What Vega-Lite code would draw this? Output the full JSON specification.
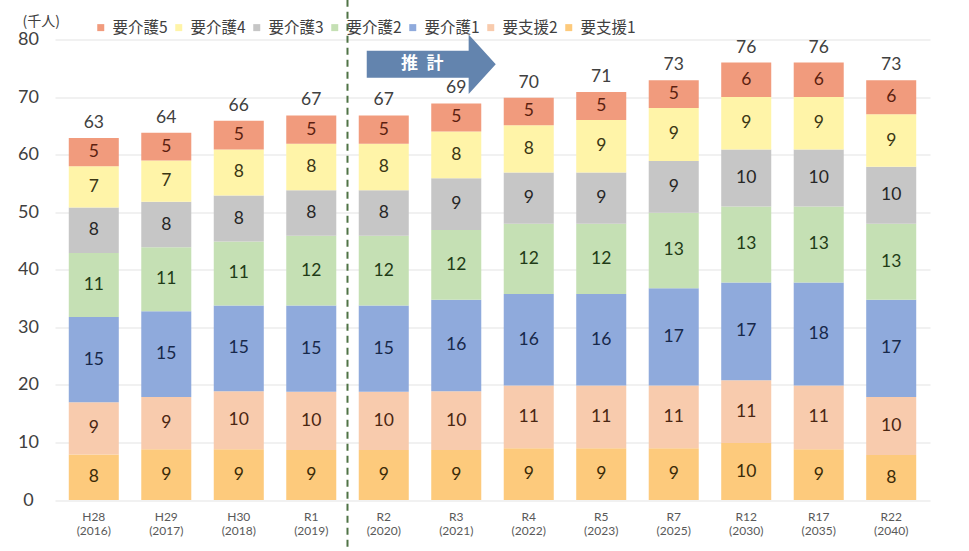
{
  "$schema": "https://vega.github.io/schema/vega-lite/v6.json",
  "width": 875,
  "height": 460.5,
  "autosize": "none",
  "padding": {"left": 55, "top": 39.5, "right": 39, "bottom": 51},
  "background": "#ffffff",
  "config": {
    "view": {"stroke": null},
    "font": "Lato",
    "axis": {"labelFont": "Lato", "titleFont": "Noto Sans CJK JP"}
  },
  "datasets": {
    "main": [
      {"p": "H28 (2016)", "k": "要支援1", "o": 1, "v": 7.9},
      {"p": "H28 (2016)", "k": "要支援2", "o": 2, "v": 9.1},
      {"p": "H28 (2016)", "k": "要介護1", "o": 3, "v": 14.8},
      {"p": "H28 (2016)", "k": "要介護2", "o": 4, "v": 11.1},
      {"p": "H28 (2016)", "k": "要介護3", "o": 5, "v": 7.9},
      {"p": "H28 (2016)", "k": "要介護4", "o": 6, "v": 7.2},
      {"p": "H28 (2016)", "k": "要介護5", "o": 7, "v": 4.9},
      {"p": "H29 (2017)", "k": "要支援1", "o": 1, "v": 8.8},
      {"p": "H29 (2017)", "k": "要支援2", "o": 2, "v": 9.1},
      {"p": "H29 (2017)", "k": "要介護1", "o": 3, "v": 14.9},
      {"p": "H29 (2017)", "k": "要介護2", "o": 4, "v": 11.1},
      {"p": "H29 (2017)", "k": "要介護3", "o": 5, "v": 7.9},
      {"p": "H29 (2017)", "k": "要介護4", "o": 6, "v": 7.2},
      {"p": "H29 (2017)", "k": "要介護5", "o": 7, "v": 4.8},
      {"p": "H30 (2018)", "k": "要支援1", "o": 1, "v": 8.8},
      {"p": "H30 (2018)", "k": "要支援2", "o": 2, "v": 10.1},
      {"p": "H30 (2018)", "k": "要介護1", "o": 3, "v": 14.9},
      {"p": "H30 (2018)", "k": "要介護2", "o": 4, "v": 11.1},
      {"p": "H30 (2018)", "k": "要介護3", "o": 5, "v": 8.0},
      {"p": "H30 (2018)", "k": "要介護4", "o": 6, "v": 8.0},
      {"p": "H30 (2018)", "k": "要介護5", "o": 7, "v": 5.0},
      {"p": "R1 (2019)", "k": "要支援1", "o": 1, "v": 8.7},
      {"p": "R1 (2019)", "k": "要支援2", "o": 2, "v": 10.1},
      {"p": "R1 (2019)", "k": "要介護1", "o": 3, "v": 15.0},
      {"p": "R1 (2019)", "k": "要介護2", "o": 4, "v": 12.1},
      {"p": "R1 (2019)", "k": "要介護3", "o": 5, "v": 7.9},
      {"p": "R1 (2019)", "k": "要介護4", "o": 6, "v": 8.1},
      {"p": "R1 (2019)", "k": "要介護5", "o": 7, "v": 4.9},
      {"p": "R2 (2020)", "k": "要支援1", "o": 1, "v": 8.7},
      {"p": "R2 (2020)", "k": "要支援2", "o": 2, "v": 10.1},
      {"p": "R2 (2020)", "k": "要介護1", "o": 3, "v": 15.0},
      {"p": "R2 (2020)", "k": "要介護2", "o": 4, "v": 12.1},
      {"p": "R2 (2020)", "k": "要介護3", "o": 5, "v": 7.9},
      {"p": "R2 (2020)", "k": "要介護4", "o": 6, "v": 8.1},
      {"p": "R2 (2020)", "k": "要介護5", "o": 7, "v": 4.9},
      {"p": "R3 (2021)", "k": "要支援1", "o": 1, "v": 8.7},
      {"p": "R3 (2021)", "k": "要支援2", "o": 2, "v": 10.2},
      {"p": "R3 (2021)", "k": "要介護1", "o": 3, "v": 15.9},
      {"p": "R3 (2021)", "k": "要介護2", "o": 4, "v": 12.1},
      {"p": "R3 (2021)", "k": "要介護3", "o": 5, "v": 9.0},
      {"p": "R3 (2021)", "k": "要介護4", "o": 6, "v": 8.1},
      {"p": "R3 (2021)", "k": "要介護5", "o": 7, "v": 4.9},
      {"p": "R4 (2022)", "k": "要支援1", "o": 1, "v": 9.0},
      {"p": "R4 (2022)", "k": "要支援2", "o": 2, "v": 10.9},
      {"p": "R4 (2022)", "k": "要介護1", "o": 3, "v": 15.9},
      {"p": "R4 (2022)", "k": "要介護2", "o": 4, "v": 12.2},
      {"p": "R4 (2022)", "k": "要介護3", "o": 5, "v": 8.9},
      {"p": "R4 (2022)", "k": "要介護4", "o": 6, "v": 8.2},
      {"p": "R4 (2022)", "k": "要介護5", "o": 7, "v": 4.8},
      {"p": "R5 (2023)", "k": "要支援1", "o": 1, "v": 9.0},
      {"p": "R5 (2023)", "k": "要支援2", "o": 2, "v": 10.9},
      {"p": "R5 (2023)", "k": "要介護1", "o": 3, "v": 15.9},
      {"p": "R5 (2023)", "k": "要介護2", "o": 4, "v": 12.2},
      {"p": "R5 (2023)", "k": "要介護3", "o": 5, "v": 8.9},
      {"p": "R5 (2023)", "k": "要介護4", "o": 6, "v": 9.1},
      {"p": "R5 (2023)", "k": "要介護5", "o": 7, "v": 4.9},
      {"p": "R7 (2025)", "k": "要支援1", "o": 1, "v": 9.0},
      {"p": "R7 (2025)", "k": "要支援2", "o": 2, "v": 10.9},
      {"p": "R7 (2025)", "k": "要介護1", "o": 3, "v": 16.9},
      {"p": "R7 (2025)", "k": "要介護2", "o": 4, "v": 13.1},
      {"p": "R7 (2025)", "k": "要介護3", "o": 5, "v": 9.0},
      {"p": "R7 (2025)", "k": "要介護4", "o": 6, "v": 9.2},
      {"p": "R7 (2025)", "k": "要介護5", "o": 7, "v": 4.8},
      {"p": "R12 (2030)", "k": "要支援1", "o": 1, "v": 9.9},
      {"p": "R12 (2030)", "k": "要支援2", "o": 2, "v": 10.9},
      {"p": "R12 (2030)", "k": "要介護1", "o": 3, "v": 17.0},
      {"p": "R12 (2030)", "k": "要介護2", "o": 4, "v": 13.2},
      {"p": "R12 (2030)", "k": "要介護3", "o": 5, "v": 9.9},
      {"p": "R12 (2030)", "k": "要介護4", "o": 6, "v": 9.1},
      {"p": "R12 (2030)", "k": "要介護5", "o": 7, "v": 6.0},
      {"p": "R17 (2035)", "k": "要支援1", "o": 1, "v": 8.8},
      {"p": "R17 (2035)", "k": "要支援2", "o": 2, "v": 11.1},
      {"p": "R17 (2035)", "k": "要介護1", "o": 3, "v": 17.9},
      {"p": "R17 (2035)", "k": "要介護2", "o": 4, "v": 13.2},
      {"p": "R17 (2035)", "k": "要介護3", "o": 5, "v": 9.9},
      {"p": "R17 (2035)", "k": "要介護4", "o": 6, "v": 9.1},
      {"p": "R17 (2035)", "k": "要介護5", "o": 7, "v": 6.0},
      {"p": "R22 (2040)", "k": "要支援1", "o": 1, "v": 7.8},
      {"p": "R22 (2040)", "k": "要支援2", "o": 2, "v": 10.1},
      {"p": "R22 (2040)", "k": "要介護1", "o": 3, "v": 16.9},
      {"p": "R22 (2040)", "k": "要介護2", "o": 4, "v": 13.2},
      {"p": "R22 (2040)", "k": "要介護3", "o": 5, "v": 9.9},
      {"p": "R22 (2040)", "k": "要介護4", "o": 6, "v": 9.1},
      {"p": "R22 (2040)", "k": "要介護5", "o": 7, "v": 5.9}
    ]
  },
  "data": {"name": "main"},
  "encoding": {
    "x": {
      "field": "p",
      "type": "nominal",
      "scale": {
        "domain": ["H28 (2016)", "H29 (2017)", "H30 (2018)", "R1 (2019)", "R2 (2020)", "R3 (2021)", "R4 (2022)", "R5 (2023)", "R7 (2025)", "R12 (2030)", "R17 (2035)", "R22 (2040)"],
        "paddingInner": 0.31,
        "paddingOuter": 0.19
      },
      "axis": {
        "title": null,
        "labelAngle": 0,
        "domain": false,
        "ticks": false,
        "labelPadding": 11,
        "labelFontSize": 12,
        "labelColor": "#595959",
        "labelLineHeight": 14,
        "labelExpr": "split(datum.label, ' ')"
      }
    }
  },
  "layer": [
    {
      "mark": {"type": "bar"},
      "encoding": {
        "y": {
          "field": "v",
          "type": "quantitative",
          "stack": "zero",
          "scale": {"domain": [0, 80], "nice": false, "zero": true},
          "axis": {
            "title": "(千人)",
            "titleAngle": 0,
            "titleAlign": "left",
            "titleBaseline": "middle",
            "titleX": -33,
            "titleY": -18.5,
            "titleFontSize": 14,
            "titleFontWeight": "normal",
            "titleColor": "#404040",
            "values": [0, 10, 20, 30, 40, 50, 60, 70, 80],
            "domain": false,
            "ticks": false,
            "labelAlign": "center",
            "labelPadding": 27,
            "labelFontSize": 18,
            "labelColor": "#404040",
            "grid": true,
            "gridColor": "#e3e3e3",
            "gridWidth": 1
          }
        },
        "color": {
          "field": "k",
          "type": "nominal",
          "scale": {
            "domain": ["要介護5", "要介護4", "要介護3", "要介護2", "要介護1", "要支援2", "要支援1"],
            "range": ["#f19b7d", "#fff4a8", "#c6c6c6", "#c5e0b4", "#8faadc", "#f8cbad", "#fdca7c"]
          },
          "legend": {
            "title": null,
            "orient": "none",
            "direction": "horizontal",
            "legendX": 38,
            "legendY": -20,
            "symbolType": "square",
            "symbolSize": 49,
            "symbolStrokeWidth": 0,
            "labelFont": "Noto Sans CJK JP",
            "labelFontSize": 15.5,
            "labelColor": "#404040",
            "labelOffset": 4,
            "columnPadding": 3,
            "padding": 0
          }
        },
        "order": {"field": "o", "sort": "ascending"}
      }
    },
    {
      "mark": {"type": "text", "font": "Lato", "fontSize": 17.5, "baseline": "middle"},
      "encoding": {
        "y": {"field": "v", "type": "quantitative", "stack": "zero", "bandPosition": 0.5},
        "text": {"field": "v", "type": "quantitative", "format": ".0f"},
        "color": {
          "field": "k",
          "type": "nominal",
          "scale": {
            "domain": ["要介護5", "要介護4", "要介護3", "要介護2", "要介護1", "要支援2", "要支援1"],
            "range": ["#5c1f10", "#3a3614", "#262626", "#1f3b17", "#17284a", "#4a2612", "#3a2a08"]
          },
          "legend": null
        },
        "order": {"field": "o", "sort": "ascending"}
      }
    },
    {
      "transform": [{"aggregate": [{"op": "sum", "field": "v", "as": "t"}], "groupby": ["p"]}],
      "mark": {"type": "text", "font": "Lato", "fontSize": 17.5, "baseline": "middle", "dy": -15, "color": "#404040"},
      "encoding": {
        "y": {"field": "t", "type": "quantitative"},
        "text": {"field": "t", "type": "quantitative", "format": ".0f"}
      }
    },
    {
      "data": {"values": [{}]},
      "mark": {"type": "rule", "color": "#4f7345", "strokeWidth": 2, "strokeDash": [7, 5]},
      "encoding": {
        "x": {"datum": "R2 (2020)", "bandPosition": -0.225},
        "y": {"datum": 86.9},
        "y2": {"datum": -8.3}
      }
    },
    {
      "data": {"values": [{}]},
      "mark": {
        "type": "point",
        "filled": true,
        "opacity": 1,
        "color": "#6384ae",
        "size": 16641,
        "shape": "M-1,-0.21 L0.58,-0.21 L0.58,-0.46 L1,0 L0.58,0.46 L0.58,0.21 L-1,0.21 Z"
      },
      "encoding": {
        "x": {"datum": "R3 (2021)", "bandPosition": 0},
        "y": {"datum": 75.7}
      }
    },
    {
      "data": {"values": [{"label": "推\u2002計"}]},
      "mark": {"type": "text", "font": "Noto Sans CJK JP", "fontSize": 17, "fontWeight": "bold", "color": "#ffffff", "baseline": "middle", "dx": -9},
      "encoding": {
        "x": {"datum": "R3 (2021)", "bandPosition": 0},
        "y": {"datum": 75.7},
        "text": {"field": "label"}
      }
    }
  ],
  "resolve": {"scale": {"color": "independent"}}
}
